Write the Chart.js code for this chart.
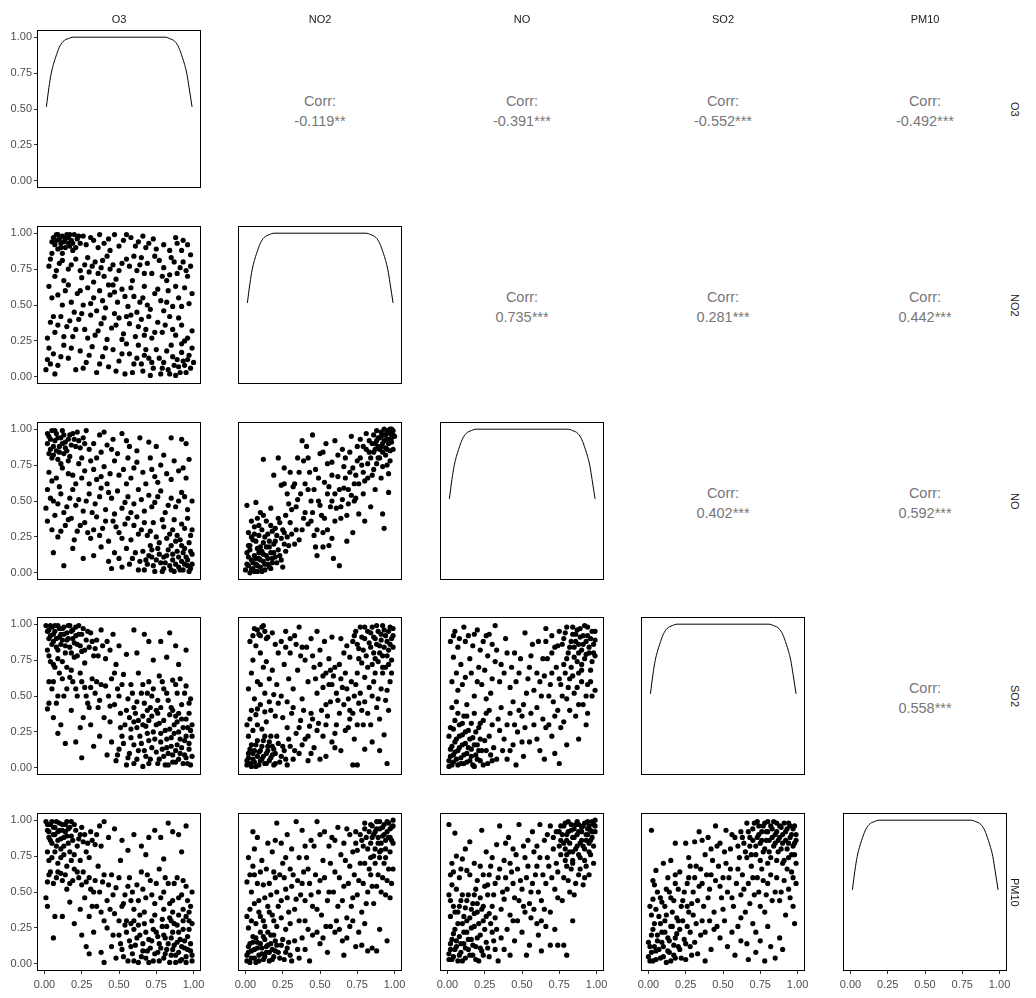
<!DOCTYPE html>
<html>
<head>
<meta charset="utf-8">
<script src="https://cdn.jsdelivr.net/npm/chart.js@4/dist/chart.umd.min.js"></script>
<style>
html,body{margin:0;padding:0;background:#fff;}
#wrap{position:relative;width:1036px;height:998px;overflow:hidden;font-family:"Liberation Sans",Arial,sans-serif;}
#wrap canvas{position:absolute;}
.strip{position:absolute;font-size:11px;color:#1a1a1a;text-align:center;line-height:14px;}
.rstrip{position:absolute;font-size:11px;color:#1a1a1a;writing-mode:vertical-rl;text-align:center;line-height:14px;}
.corr{position:absolute;font-size:14.5px;color:#777;text-align:center;line-height:20px;}
</style>
</head>
<body>
<div id="wrap"></div>
<script>
// ---------- data ----------
const variables = ["O3","NO2","NO","SO2","PM10"];
const tickValues = [0,0.25,0.5,0.75,1];
const tickLabels = ["0.00","0.25","0.50","0.75","1.00"];

// correlation labels (upper triangle), by row
const corrO3  = ["-0.119**","-0.391***","-0.552***","-0.492***"];
const corrNO2 = ["0.735***","0.281***","0.442***"];
const corrNO  = ["0.402***","0.592***"];
const corrSO2 = ["0.558***"];

// diagonal density curve (same shape for every variable)
const densityX = [0.013,0.03,0.045,0.06,0.075,0.1,0.125,0.16,0.19,0.5,0.81,0.84,0.875,0.9,0.925,0.94,0.955,0.97,0.99];
const densityY = [0.515,0.65,0.746,0.81,0.86,0.93,0.97,0.99,1.0,1.0,1.0,0.99,0.97,0.93,0.86,0.81,0.746,0.65,0.515];

// scatter panels: [x, y]
const pts_O3_NO2 = [[.06,.97],[.08,.99],[.10,.96],[.12,.98],[.13,.94],[.15,.99],[.16,.97],[.18,.95],[.20,.99],[.22,.96],[.07,.92],[.09,.89],[.11,.93],[.14,.90],[.17,.91],[.19,.88],[.24,.93],[.05,.86],[.12,.86],[.26,.98],
[.31,.97],[.40,.93],[.47,.99],[.53,.95],[.58,.97],[.61,.91],[.66,.98],[.70,.93],[.75,.89],[.88,.97],[.89,.93],[.92,.88],[.96,.92],[.44,.88],[.36,.90],
[.04,.82],[.10,.79],[.16,.75],[.21,.82],[.27,.78],[.30,.73],[.34,.80],[.38,.76],[.42,.84],[.46,.78],[.50,.74],[.55,.82],[.57,.77],[.62,.74],[.65,.83],[.69,.79],[.72,.72],[.77,.81],[.80,.76],[.84,.71],[.87,.80],[.91,.76],[.95,.74],[.98,.77],[.25,.69],[.33,.66],[.40,.70],[.48,.68],[.59,.67],[.82,.67],[.07,.70],[.13,.67],
[.03,.63],[.09,.57],[.14,.60],[.18,.52],[.22,.58],[.26,.50],[.29,.62],[.33,.55],[.37,.60],[.41,.48],[.44,.57],[.49,.52],[.52,.61],[.56,.49],[.60,.56],[.64,.52],[.67,.63],[.71,.47],[.74,.58],[.78,.53],[.83,.60],[.86,.49],[.90,.55],[.94,.62],[.97,.51],[.35,.46],[.62,.45],[.20,.45],[.80,.46],[.46,.64],
[.04,.38],[.07,.31],[.11,.42],[.15,.35],[.19,.28],[.23,.40],[.27,.33],[.31,.43],[.34,.29],[.38,.37],[.42,.26],[.45,.34],[.50,.41],[.53,.30],[.57,.37],[.61,.28],[.65,.40],[.68,.33],[.72,.27],[.76,.38],[.79,.31],[.84,.42],[.88,.29],[.92,.36],[.96,.27],[.02,.27],[.47,.44],[.58,.43],
[.01,.05],[.02,.12],[.03,.20],[.06,.16],[.09,.08],[.13,.22],[.16,.13],[.21,.05],[.24,.18],[.28,.10],[.32,.21],[.35,.03],[.39,.14],[.43,.07],[.46,.19],[.50,.11],[.54,.02],[.57,.16],[.60,.09],[.63,.22],[.66,.04],[.70,.13],[.73,.06],[.75,.19],[.78,.02],[.80,.10],[.83,.05],[.86,.14],[.88,.01],[.90,.07],[.93,.11],[.95,.03],[.97,.15],[.99,.20],[.71,.01],[.85,.22],[.67,.15],[.55,.23],[.92,.23],
[.05,.94],[.09,.99],[.11,.90],[.14,.96],[.17,.99],[.19,.93],[.21,.90],[.23,.98],[.08,.95],[.16,.93],[.28,.92],[.33,.95],[.37,.99],[.43,.96],[.50,.91],[.55,.99],[.63,.94],[.68,.90],[.73,.96],[.80,.92],[.84,.88],[.93,.95],[.98,.85],
[.03,.77],[.08,.74],[.12,.81],[.18,.78],[.24,.74],[.29,.83],[.32,.77],[.36,.72],[.39,.81],[.44,.75],[.52,.79],[.60,.84],[.64,.78],[.67,.72],[.74,.84],[.79,.70],[.85,.83],[.89,.72],[.93,.80],[.96,.70],
[.05,.55],[.12,.50],[.16,.64],[.24,.60],[.31,.51],[.39,.53],[.43,.64],[.47,.59],[.54,.56],[.58,.62],[.66,.55],[.69,.50],[.76,.61],[.82,.52],[.88,.63],[.92,.49],[.99,.58],
[.06,.42],[.09,.36],[.13,.28],[.17,.39],[.21,.33],[.25,.44],[.29,.27],[.36,.32],[.40,.41],[.48,.36],[.52,.26],[.55,.42],[.63,.35],[.67,.29],[.70,.42],[.74,.31],[.81,.36],[.86,.33],[.90,.41],[.94,.25],[.99,.32],
[.04,.09],[.07,.02],[.11,.14],[.18,.20],[.26,.06],[.30,.15],[.37,.09],[.41,.20],[.48,.04],[.52,.16],[.59,.03],[.62,.13],[.65,.09],[.68,.19],[.72,.10],[.77,.13],[.79,.06],[.82,.18],[.84,.02],[.87,.08],[.89,.12],[.91,.03],[.94,.08],[.96,.12],[.98,.06],[1.0,.10],[.92,.17]];

const pts_O3_NO = [[.03,.95],[.05,.99],[.07,.92],[.08,.97],[.10,.88],[.11,.94],[.12,.99],[.14,.91],[.15,.85],[.17,.96],[.18,.89],[.04,.86],[.06,.82],[.09,.79],[.13,.83],[.20,.93],[.22,.98],[.24,.87],[.26,.94],[.02,.90],[.16,.78],[.28,.99],
[.33,.90],[.37,.96],[.42,.89],[.46,.93],[.52,.97],[.57,.88],[.64,.94],[.70,.91],[.85,.94],[.92,.93],[.38,.84],[.49,.83],
[.03,.70],[.08,.66],[.12,.73],[.19,.68],[.23,.76],[.27,.71],[.31,.78],[.35,.65],[.40,.74],[.44,.69],[.47,.78],[.53,.72],[.58,.66],[.62,.77],[.66,.70],[.71,.80],[.74,.67],[.78,.75],[.82,.69],[.87,.78],[.90,.71],[.95,.66],[.97,.79],[.56,.80],[.30,.62],
[.02,.58],[.06,.50],[.11,.55],[.15,.46],[.19,.58],[.23,.51],[.26,.43],[.30,.55],[.34,.48],[.38,.59],[.41,.44],[.45,.52],[.49,.57],[.52,.45],[.56,.53],[.60,.48],[.63,.58],[.67,.43],[.70,.54],[.74,.49],[.78,.57],[.81,.42],[.85,.52],[.88,.46],[.92,.56],[.96,.44],[.99,.50],[.01,.45],[.47,.41],
[.02,.36],[.05,.30],[.09,.25],[.14,.33],[.18,.38],[.22,.29],[.27,.35],[.31,.24],[.35,.39],[.39,.31],[.43,.22],[.46,.36],[.50,.28],[.54,.34],[.58,.23],[.62,.39],[.65,.30],[.69,.26],[.73,.35],[.77,.21],[.80,.32],[.84,.27],[.87,.37],[.91,.23],[.94,.31],[.98,.26],[.60,.33],[.33,.30],
[.06,.14],[.13,.05],[.19,.17],[.26,.10],[.33,.12],[.38,.18],[.43,.08],[.47,.14],[.52,.04],[.55,.17],[.59,.10],[.63,.02],[.66,.15],[.69,.06],[.72,.11],[.74,.01],[.76,.17],[.78,.07],[.80,.03],[.82,.12],[.84,.05],[.86,.09],[.87,.01],[.89,.15],[.90,.04],[.92,.08],[.93,.02],[.95,.11],[.96,.05],[.98,.03],[.99,.13],[.71,.19],[.85,.19],[.94,.17],
[.02,.97],[.04,.93],[.06,.88],[.07,.99],[.09,.94],[.10,.84],[.12,.90],[.13,.96],[.14,.87],[.16,.93],[.17,.81],[.19,.97],[.21,.88],[.23,.92],[.25,.80],[.27,.90],[.05,.80],[.08,.85],[.11,.76],[.03,.83],[.30,.86],[.35,.80],[.40,.98],[.45,.86],[.55,.92],[.62,.85],[.75,.88],[.80,.82],[.95,.90],
[.05,.64],[.10,.60],[.16,.69],[.21,.62],[.25,.66],[.33,.72],[.38,.67],[.42,.62],[.50,.68],[.55,.62],[.60,.73],[.68,.62],[.72,.72],[.76,.63],[.85,.65],[.93,.73],[.04,.52],[.09,.48],[.13,.42],[.17,.52],[.21,.47],[.28,.50],[.32,.42],[.37,.53],[.43,.56],[.54,.49],[.58,.42],[.65,.51],[.72,.46],[.76,.53],[.83,.47],[.90,.50],[.94,.53],
[.07,.40],[.11,.29],[.16,.37],[.20,.23],[.24,.33],[.29,.28],[.37,.26],[.41,.36],[.48,.32],[.52,.24],[.56,.38],[.63,.27],[.67,.35],[.71,.29],[.75,.25],[.79,.37],[.82,.24],[.86,.30],[.89,.26],[.92,.34],[.96,.38],[.99,.30],
[.45,.03],[.50,.10],[.57,.06],[.61,.14],[.64,.08],[.67,.02],[.70,.12],[.73,.05],[.75,.09],[.77,.13],[.79,.01],[.81,.07],[.83,.16],[.85,.02],[.88,.06],[.90,.11],[.91,.02],[.93,.14],[.94,.06],[.96,.09],[.97,.01],[.98,.15],[.99,.06],[.86,.13],[.80,.11],[.72,.16],[.68,.09],[.92,.19],[.97,.21],[.88,.22]];

const pts_NO2_NO = [[.00,.02],[.02,.05],[.03,.00],[.04,.09],[.05,.03],[.06,.12],[.07,.06],[.08,.01],[.09,.10],[.10,.04],[.11,.15],[.12,.08],[.13,.02],[.14,.12],[.15,.06],[.16,.18],[.17,.03],[.18,.10],[.01,.14],[.03,.19],[.05,.23],[.08,.17],[.02,.28],[.06,.32],[.09,.26],[.12,.21],[.19,.14],[.21,.07],[.23,.12],[.25,.04],[.27,.15],[.20,.22],[.15,.27],[.11,.30],[.04,.36],[.14,.36],
[.01,.47],[.07,.49],[.12,.79],[.22,.80],[.19,.68],[.26,.73],[.10,.42],[.17,.45],[.22,.38],[.25,.30],[.28,.25],[.30,.35],[.33,.20],[.31,.44],[.35,.51],[.38,.30],[.40,.42],[.42,.58],[.44,.36],[.46,.26],[.28,.55],[.24,.61],[.33,.62],[.36,.70],[.39,.78],[.45,.96],[.41,.88],[.47,.72],[.49,.50],[.51,.40],[.53,.63],[.55,.30],[.57,.46],[.58,.77],[.60,.55],[.62,.67],[.63,.05],[.59,.10],[.56,.19],[.52,.18],[.48,.12],[.44,.50],[.50,.83],[.54,.90],[.60,.92],[.64,.38],[.66,.59],[.67,.80],[.69,.48],[.70,.70],[.72,.28],[.73,.62],[.75,.88],[.76,.41],[.78,.75],[.79,.55],[.81,.97],[.82,.66],[.83,.84],[.84,.46],[.86,.72],[.87,.58],[.93,.31],[.92,.41],[.96,.56],[.88,.92],[.89,.80],[.91,.66],[.90,.86],[.71,.95],[.77,.93],[.65,.86],[.74,.52],[.80,.36],[.68,.22],
[.86,.96],[.88,.99],[.90,.94],[.91,.98],[.92,.90],[.93,.96],[.94,.87],[.95,.99],[.96,.93],[.97,.97],[.98,.91],[.99,.99],[1.0,.95],[.94,.82],[.97,.78],[.99,.86],[.95,.75],[.92,.84],[.89,.88],[.96,.69],[.98,1.0],[.85,.90],[.93,1.0],
[.01,.06],[.02,.11],[.03,.16],[.04,.02],[.05,.07],[.06,.01],[.07,.10],[.08,.05],[.09,.14],[.10,.09],[.11,.01],[.12,.13],[.13,.06],[.14,.18],[.15,.10],[.16,.04],[.17,.14],[.18,.07],[.19,.20],[.20,.11],[.22,.16],[.24,.09],[.26,.20],[.02,.19],[.04,.25],[.07,.22],[.10,.18],[.13,.25],[.16,.22],[.18,.29],[.21,.26],[.24,.24],[.06,.27],[.09,.33],[.12,.40],[.08,.38],[.17,.33],[.20,.31],[.23,.35],[.26,.28],[.29,.19],[.31,.27],[.34,.30],[.36,.23],[.39,.38],[.42,.34],[.45,.42],[.48,.30],[.50,.47],[.53,.38],[.55,.55],[.58,.50],[.61,.45],[.63,.58],[.65,.51],[.67,.66],[.69,.58],[.71,.54],[.72,.73],[.74,.68],[.76,.62],[.77,.80],[.79,.70],[.80,.64],[.81,.86],[.82,.76],[.84,.80],[.85,.68],[.86,.84],[.87,.90],[.88,.76],[.89,.94],[.90,.80],[.91,.88],[.92,.74],[.93,.92],[.94,.96],[.95,.86],[.96,.90],[.97,.85],[.98,.94],[.99,.96],[.97,1.0],[.95,.93],[.91,.95],[.87,.86],[.83,.92],[.79,.88],[.75,.78],[.70,.84],[.66,.74],[.62,.82],[.58,.68],[.55,.76],[.52,.84],[.49,.66],[.46,.58],[.43,.70],[.40,.62],[.37,.55],[.34,.46],[.32,.60],[.29,.48],[.27,.40],[.26,.62],[.30,.70],[.35,.80],[.38,.92],[.42,.80],[.56,.60],[.64,.46],[.68,.40],[.73,.50],[.60,.36],[.52,.28],[.47,.18],[.58,.24]];

const pts_O3_SO2 = [[.01,.99],[.03,.96],[.04,.92],[.05,.98],[.06,.88],[.07,.95],[.08,.84],[.09,.99],[.10,.91],[.11,.86],[.12,.97],[.13,.93],[.14,.80],[.15,.89],[.16,.99],[.17,.84],[.18,.95],[.19,.90],[.20,.77],[.21,.98],[.22,.86],[.23,.93],[.25,.81],[.26,.97],[.28,.89],[.30,.84],[.31,.94],[.33,.78],[.02,.82],[.04,.74],[.07,.70],[.10,.66],[.03,.60],[.12,.62],[.06,.60],[.35,.89],
[.38,.96],[.42,.88],[.46,.93],[.50,.85],[.60,.96],[.67,.93],[.70,.88],[.78,.88],[.84,.94],[.88,.85],[.95,.82],[.55,.79],[.41,.76],[.62,.80],[.73,.75],[.82,.77],[.90,.72],[.48,.72],
[.02,.41],[.06,.35],[.03,.45],[.11,.30],[.18,.40],[.09,.50],[.15,.55],[.19,.60],[.22,.50],[.24,.66],[.27,.56],[.29,.45],[.32,.62],[.34,.52],[.36,.42],[.38,.58],[.40,.35],[.43,.50],[.45,.62],[.47,.44],[.49,.55],[.51,.38],[.53,.65],[.56,.48],[.58,.58],[.60,.42],[.63,.66],[.65,.52],[.67,.45],[.70,.60],[.72,.50],[.75,.40],[.77,.64],[.80,.55],[.83,.47],[.86,.61],[.89,.52],[.92,.44],[.95,.57],[.98,.48],[.26,.35],[.31,.30],[.44,.32],[.54,.30],[.24,.28],[.21,.18],[.30,.42],
[.09,.24],[.14,.17],[.25,.07],[.33,.15],[.37,.22],[.42,.09],[.45,.18],
[.48,.05],[.50,.13],[.52,.22],[.55,.02],[.57,.10],[.58,.27],[.60,.16],[.62,.06],[.63,.33],[.64,.22],[.66,.01],[.67,.12],[.68,.29],[.70,.19],[.71,.06],[.72,.36],[.73,.25],[.75,.11],[.76,.03],[.77,.31],[.78,.18],[.80,.08],[.81,.26],[.82,.14],[.83,.02],[.84,.37],[.85,.21],[.86,.09],[.87,.30],[.88,.04],[.89,.16],[.90,.25],[.91,.10],[.92,.34],[.93,.03],[.94,.19],[.95,.07],[.96,.28],[.97,.13],[.98,.02],[.99,.22],[.97,.38],[.61,.38],[.69,.40],
[.02,.95],[.03,.90],[.04,.99],[.05,.86],[.06,.93],[.07,.99],[.08,.90],[.09,.82],[.10,.97],[.11,.93],[.12,.89],[.13,.98],[.14,.85],[.15,.94],[.16,.90],[.17,.99],[.18,.80],[.19,.96],[.20,.87],[.21,.92],[.22,.78],[.23,.99],[.24,.85],[.25,.93],[.27,.82],[.29,.95],[.32,.88],[.34,.83],[.03,.78],[.06,.72],[.09,.76],[.12,.74],[.15,.70],[.18,.68],[.27,.73],[.36,.78],[.39,.85],[.44,.82],
[.05,.55],[.08,.45],[.13,.50],[.17,.63],[.21,.55],[.25,.60],[.28,.50],[.31,.56],[.35,.60],[.37,.47],[.41,.57],[.44,.43],[.47,.66],[.50,.50],[.52,.58],[.55,.40],[.59,.52],[.62,.46],[.66,.58],[.69,.52],[.73,.55],[.76,.47],[.79,.60],[.82,.52],[.85,.42],[.88,.58],[.91,.62],[.94,.52],[.97,.45],[.57,.35],[.60,.32],[.66,.36],[.71,.42],[.78,.42],[.86,.40],[.90,.38],
[.49,.09],[.51,.28],[.53,.17],[.56,.07],[.58,.21],[.60,.03],[.62,.28],[.63,.12],[.65,.17],[.66,.30],[.68,.08],[.69,.24],[.70,.03],[.72,.14],[.74,.20],[.75,.30],[.77,.06],[.78,.24],[.79,.13],[.80,.33],[.81,.02],[.82,.20],[.83,.10],[.84,.27],[.85,.15],[.86,.04],[.87,.24],[.88,.12],[.89,.32],[.90,.06],[.91,.20],[.92,.14],[.93,.28],[.94,.09],[.95,.22],[.96,.03],[.97,.17],[.98,.26],[.99,.08],[.99,.30],[.95,.34],[.88,.36],[.76,.38],[.70,.33]];

const pts_NO2_SO2 = [[.01,.02],[.02,.07],[.03,.13],[.04,.01],[.05,.10],[.06,.04],[.07,.16],[.08,.08],[.09,.02],[.10,.12],[.11,.06],[.12,.19],[.13,.03],[.14,.10],[.15,.15],[.16,.05],[.17,.22],[.18,.09],[.19,.13],[.20,.03],[.22,.17],[.24,.08],[.26,.12],[.28,.02],[.02,.22],[.05,.26],[.08,.30],[.11,.27],[.03,.34],[.14,.32],[.30,.15],[.32,.06],
[.06,.97],[.09,.93],[.11,.98],[.13,.95],[.15,.91],[.03,.88],[.07,.85],[.04,.66],[.02,.55],[.06,.48],[.10,.58],[.12,.70],[.16,.62],[.19,.51],[.08,.41],[.17,.40],[.22,.45],[.05,.75],
[.24,.88],[.27,.95],[.30,.80],[.33,.92],[.36,.98],[.38,.84],[.26,.72],[.29,.62],[.32,.55],[.35,.68],[.38,.48],[.40,.75],[.42,.60],[.44,.38],[.46,.70],[.48,.52],[.50,.82],[.52,.64],[.54,.44],[.56,.76],[.58,.58],[.60,.70],[.62,.47],[.64,.62],[.66,.80],[.68,.55],[.70,.40],[.44,.90],[.48,.95],[.53,.88],[.58,.91],[.25,.35],[.28,.28],[.31,.38],[.34,.24],[.37,.33],[.40,.20],[.43,.29],[.46,.14],[.49,.31],[.52,.22],[.55,.36],[.58,.18],[.61,.30],[.64,.12],[.67,.26],[.70,.34],[.73,.20],[.76,.45],[.79,.30],[.82,.38],[.85,.50],[.88,.42],[.91,.55],[.94,.47],[.97,.60],[.74,.58],[.80,.63],[.87,.66],[.36,.10],[.42,.05],[.54,.08],
[.72,.02],[.75,.02],[.95,.03],[.90,.12],[.85,.18],[.93,.23],[.80,.13],
[.72,.88],[.74,.95],[.76,.83],[.78,.91],[.80,.98],[.81,.78],[.83,.87],[.84,.94],[.86,.80],[.87,.90],[.88,.99],[.89,.74],[.90,.85],[.91,.93],[.92,.78],[.93,.96],[.94,.70],[.95,.88],[.96,.82],[.97,.98],[.98,.75],[.99,.92],[.99,.84],[.85,.72],[.78,.73],[.70,.77],
[.01,.05],[.02,.10],[.03,.03],[.04,.16],[.05,.06],[.06,.12],[.07,.01],[.08,.19],[.09,.11],[.10,.05],[.11,.15],[.12,.08],[.13,.22],[.14,.03],[.15,.12],[.16,.18],[.17,.07],[.18,.15],[.19,.02],[.20,.10],[.21,.22],[.23,.04],[.25,.15],[.27,.06],[.29,.20],[.01,.30],[.04,.40],[.07,.37],[.10,.44],[.13,.39],[.16,.46],[.20,.36],
[.08,.96],[.10,.92],[.12,.99],[.14,.90],[.05,.92],[.18,.94],[.20,.86],[.22,.80],[.10,.80],[.14,.74],[.18,.68],[.08,.60],[.13,.52],[.21,.58],[.24,.50],
[.27,.84],[.30,.90],[.34,.86],[.37,.78],[.41,.84],[.45,.78],[.47,.62],[.50,.72],[.52,.56],[.54,.66],[.56,.58],[.57,.68],[.59,.64],[.61,.52],[.63,.72],[.65,.56],[.67,.66],[.69,.48],[.71,.60],[.73,.50],[.75,.66],[.77,.52],[.80,.46],[.83,.56],[.86,.60],[.89,.48],[.92,.66],[.95,.54],[.98,.66],[.28,.46],[.32,.42],[.36,.28],[.39,.40],[.42,.22],[.45,.34],[.48,.26],[.51,.40],[.54,.30],[.57,.46],[.60,.24],[.63,.38],[.66,.44],[.69,.28],[.72,.38],[.75,.30],[.78,.40],[.84,.30],[.90,.34],[.96,.40],[.33,.12],[.38,.16],[.44,.10],[.50,.06],[.60,.14],
[.73,.92],[.75,.86],[.77,.98],[.79,.82],[.80,.90],[.82,.95],[.84,.84],[.85,.98],[.86,.91],[.87,.76],[.88,.86],[.89,.95],[.90,.80],[.91,.89],[.92,.99],[.93,.84],[.94,.92],[.95,.78],[.96,.95],[.97,.86],[.98,.90],[.99,.97],[.96,.72],[.92,.70],[.82,.70],[.76,.76],[.68,.85],[.64,.90]];

const pts_NO_SO2 = [[.01,.01],[.02,.08],[.03,.15],[.04,.04],[.05,.11],[.06,.20],[.07,.02],[.08,.14],[.09,.07],[.10,.23],[.11,.03],[.12,.17],[.13,.10],[.14,.26],[.15,.05],[.16,.13],[.17,.21],[.18,.01],[.19,.09],[.20,.16],[.21,.28],[.22,.05],[.23,.12],[.25,.19],[.27,.03],[.29,.09],[.02,.28],[.05,.33],[.08,.30],[.11,.36],[.03,.42],[.16,.31],[.24,.33],[.31,.14],[.33,.06],
[.02,.88],[.05,.95],[.08,.90],[.11,.98],[.14,.92],[.17,.85],[.20,.96],[.24,.88],[.28,.93],[.32,.99],[.04,.77],[.09,.72],[.15,.76],[.21,.70],[.27,.78],[.03,.60],[.07,.54],[.12,.63],[.18,.50],[.23,.58],[.06,.46],[.13,.44],[.26,.48],[.30,.62],[.33,.82],[.36,.72],[.39,.90],[.42,.56],[.45,.80],[.48,.66],[.36,.42],[.40,.30],[.44,.46],[.38,.20],[.42,.12],[.47,.25],[.50,.36],[.53,.52],[.55,.70],[.57,.86],[.52,.94],[.60,.42],[.62,.60],[.64,.76],[.66,.28],[.68,.50],[.70,.66],[.72,.84],[.74,.40],[.76,.58],[.78,.72],[.80,.48],[.82,.62],[.85,.52],[.88,.66],[.91,.44],[.94,.58],[.97,.50],[.55,.18],[.58,.30],[.51,.08],[.46,.02],[.62,.12],[.70,.22],[.78,.32],[.86,.36],[.93,.30],[.34,.34],[.28,.40],
[.65,.06],[.72,.10],[.80,.16],[.88,.20],[.75,.03],
[.78,.90],[.80,.98],[.82,.84],[.84,.93],[.85,.77],[.86,.88],[.87,.96],[.88,.80],[.89,.91],[.90,.72],[.91,.86],[.92,.99],[.93,.79],[.94,.92],[.95,.84],[.96,.68],[.97,.95],[.98,.80],[.99,.89],[.83,.70],[.75,.95],[.70,.92],[.66,.97],
[.01,.05],[.02,.13],[.03,.02],[.04,.09],[.05,.18],[.06,.06],[.07,.12],[.08,.22],[.09,.03],[.10,.16],[.11,.09],[.12,.25],[.13,.04],[.14,.14],[.15,.20],[.16,.08],[.17,.02],[.18,.16],[.19,.25],[.20,.06],[.21,.12],[.22,.20],[.24,.02],[.26,.12],[.28,.22],[.30,.05],[.01,.22],[.04,.27],[.07,.38],[.10,.31],[.13,.36],[.18,.38],[.22,.31],[.26,.38],[.30,.30],[.35,.26],
[.04,.92],[.07,.84],[.12,.88],[.18,.93],[.22,.82],[.26,.92],[.30,.86],[.06,.66],[.10,.58],[.16,.66],[.20,.60],[.25,.68],[.29,.52],[.32,.74],[.35,.60],[.38,.66],[.40,.80],[.43,.70],[.46,.60],[.49,.76],[.51,.44],[.54,.62],[.56,.78],[.58,.54],[.60,.66],[.61,.88],[.63,.50],[.65,.64],[.67,.76],[.69,.58],[.71,.46],[.73,.70],[.75,.62],[.77,.50],[.79,.66],[.81,.56],[.84,.64],[.87,.56],[.90,.60],[.93,.50],[.96,.60],[.99,.54],[.42,.38],[.45,.30],[.48,.40],[.52,.28],[.56,.38],[.60,.20],[.64,.34],[.68,.30],[.72,.36],[.76,.28],[.82,.40],[.88,.44],[.94,.38],[.37,.12],[.44,.16],[.50,.18],[.40,.06],
[.77,.86],[.79,.94],[.81,.80],[.83,.88],[.84,.98],[.85,.84],[.86,.93],[.87,.74],[.88,.86],[.89,.97],[.90,.82],[.91,.92],[.92,.76],[.93,.88],[.94,.98],[.95,.80],[.96,.90],[.97,.74],[.98,.86],[.99,.95],[.99,.78],[.90,.68],[.80,.76],[.74,.85],[.70,.80],[.66,.88]];

const pts_O3_PM10 = [[.01,.99],[.02,.93],[.03,.88],[.04,.97],[.05,.84],[.06,.95],[.07,.90],[.08,.99],[.09,.86],[.10,.93],[.11,.80],[.12,.97],[.13,.88],[.14,.92],[.15,.99],[.16,.84],[.17,.95],[.18,.89],[.20,.97],[.22,.82],[.24,.90],[.02,.78],[.05,.74],[.09,.70],[.13,.76],[.18,.72],[.26,.85],[.28,.78],[.31,.92],[.34,.83],[.37,.96],[.40,.99],
[.43,.88],[.47,.94],[.52,.86],[.56,.79],[.60,.90],[.65,.82],[.70,.88],[.74,.93],[.78,.88],[.83,.98],[.86,.92],[.90,.90],[.95,.96],[.68,.76],[.80,.73],[.92,.78],
[.02,.57],[.04,.64],[.08,.60],[.11,.63],[.15,.52],[.19,.58],[.22,.64],[.25,.55],[.27,.46],[.30,.60],[.33,.50],[.36,.68],[.39,.57],[.42,.44],[.45,.62],[.48,.53],[.51,.72],[.54,.48],[.57,.60],[.60,.38],[.62,.55],[.65,.64],[.68,.46],[.71,.58],[.74,.42],[.77,.66],[.80,.50],[.83,.56],[.86,.44],[.89,.60],[.92,.48],[.95,.54],[.98,.40],[.35,.40],[.47,.35],[.55,.30],[.58,.44],[.64,.34],[.40,.30],[.30,.33],[.24,.38],[.20,.28],[.02,.40],[.07,.33],[.12,.33],[.01,.46],[.17,.43],
[.06,.18],[.25,.20],[.28,.12],[.30,.07],[.33,.22],[.38,.08],[.40,.01],[.42,.25],[.45,.12],[.48,.04],
[.50,.20],[.52,.10],[.54,.27],[.56,.02],[.57,.16],[.59,.07],[.60,.24],[.61,.13],[.63,.01],[.64,.20],[.66,.09],[.67,.28],[.68,.04],[.70,.17],[.71,.11],[.72,.30],[.73,.02],[.75,.22],[.76,.08],[.77,.14],[.79,.26],[.80,.04],[.81,.18],[.82,.10],[.84,.32],[.85,.06],[.86,.22],[.87,.13],[.88,.01],[.89,.27],[.90,.08],[.91,.17],[.92,.03],[.93,.24],[.94,.11],[.95,.05],[.96,.19],[.97,.30],[.98,.09],[.99,.02],[.97,.36],[.93,.38],
[.02,.97],[.03,.92],[.04,.86],[.05,.99],[.06,.90],[.07,.95],[.08,.82],[.09,.92],[.10,.98],[.11,.87],[.12,.93],[.13,.82],[.14,.97],[.15,.89],[.16,.94],[.17,.78],[.18,.99],[.19,.86],[.21,.93],[.23,.87],[.25,.95],[.27,.90],[.29,.84],[.32,.86],[.35,.90],[.03,.72],[.07,.78],[.11,.74],[.15,.68],[.20,.76],[.24,.72],[.30,.74],[.38,.82],
[.03,.62],[.06,.56],[.09,.64],[.12,.58],[.14,.62],[.17,.56],[.20,.66],[.23,.60],[.26,.64],[.28,.57],[.31,.52],[.34,.58],[.37,.50],[.40,.62],[.43,.55],[.46,.48],[.50,.60],[.53,.42],[.56,.54],[.59,.50],[.63,.44],[.66,.52],[.69,.62],[.72,.48],[.75,.56],[.78,.46],[.81,.60],[.84,.42],[.87,.56],[.90,.46],[.93,.58],[.96,.44],[.99,.50],[.32,.40],[.38,.36],[.44,.38],[.50,.30],[.52,.40],[.60,.30],[.67,.36],[.74,.34],[.80,.38],[.86,.36],
[.51,.14],[.53,.05],[.55,.22],[.58,.12],[.60,.02],[.62,.18],[.63,.27],[.65,.05],[.66,.14],[.68,.22],[.69,.09],[.70,.01],[.72,.16],[.73,.24],[.74,.07],[.76,.19],[.77,.02],[.78,.11],[.79,.31],[.80,.20],[.81,.07],[.82,.26],[.83,.14],[.84,.01],[.85,.18],[.86,.10],[.87,.28],[.88,.06],[.89,.15],[.90,.22],[.91,.02],[.92,.12],[.93,.30],[.94,.16],[.95,.01],[.96,.10],[.97,.24],[.98,.14],[.99,.06],[.99,.28],[.95,.33],[.90,.34],[.85,.30],[.58,.28],[.46,.20]];

const pts_NO2_PM10 = [[.01,.02],[.02,.08],[.03,.14],[.04,.04],[.05,.19],[.06,.10],[.07,.01],[.08,.15],[.09,.06],[.10,.22],[.11,.11],[.12,.03],[.13,.17],[.14,.08],[.15,.13],[.16,.02],[.17,.20],[.18,.10],[.19,.05],[.20,.16],[.22,.08],[.24,.13],[.26,.03],[.28,.11],[.30,.06],[.02,.25],[.04,.30],[.07,.28],[.10,.33],[.13,.26],[.16,.36],[.19,.30],[.33,.16],[.36,.04],[.40,.10],[.43,.02],
[.05,.92],[.08,.88],[.21,.98],[.34,.99],[.28,.90],[.02,.74],[.06,.80],[.11,.72],[.15,.84],[.18,.78],[.24,.84],[.31,.80],[.38,.93],
[.01,.57],[.04,.50],[.06,.62],[.09,.44],[.12,.55],[.14,.66],[.17,.48],[.20,.60],[.22,.40],[.25,.70],[.27,.52],[.29,.36],[.32,.62],[.34,.45],[.36,.74],[.38,.56],[.40,.30],[.42,.66],[.44,.48],[.46,.82],[.48,.38],[.50,.58],[.52,.72],[.54,.26],[.56,.50],[.58,.88],[.60,.64],[.62,.40],[.64,.76],[.66,.54],[.68,.32],[.70,.68],[.72,.46],[.74,.84],[.76,.58],[.78,.36],[.80,.70],[.82,.50],[.84,.62],[.86,.42],[.88,.54],[.90,.74],[.92,.60],[.94,.48],[.96,.66],[.98,.56],[.45,.20],[.50,.14],[.55,.08],[.60,.22],[.65,.16],[.70,.26],[.74,.12],[.62,.95],[.70,.90],[.53,.92],[.48,.99],
[.78,.13],[.82,.09],[.85,.11],[.88,.09],[.66,.06],[.95,.16],[.90,.24],[.80,.28],
[.78,.86],[.80,.94],[.82,.80],[.84,.97],[.85,.88],[.86,.75],[.87,.92],[.88,.99],[.89,.84],[.90,.94],[.91,.79],[.92,.89],[.93,.97],[.94,.86],[.95,.92],[.96,.98],[.97,.88],[.98,.95],[.99,1.0],[.97,.78],[.99,.84],[.75,.79],
[.01,.06],[.02,.12],[.03,.01],[.04,.09],[.05,.15],[.06,.04],[.07,.18],[.08,.11],[.09,.02],[.10,.14],[.11,.07],[.12,.19],[.13,.05],[.14,.12],[.15,.22],[.16,.08],[.17,.14],[.18,.03],[.19,.20],[.20,.09],[.21,.13],[.23,.04],[.25,.17],[.27,.08],[.29,.15],[.31,.02],[.01,.33],[.03,.38],[.06,.42],[.09,.36],[.12,.30],[.15,.40],[.18,.34],[.21,.26],[.24,.32],[.27,.24],[.35,.10],[.38,.18],
[.03,.62],[.05,.68],[.08,.56],[.10,.64],[.13,.46],[.16,.56],[.19,.64],[.21,.50],[.23,.62],[.24,.44],[.26,.60],[.28,.46],[.30,.66],[.31,.54],[.33,.38],[.35,.58],[.37,.48],[.39,.64],[.40,.44],[.41,.74],[.43,.56],[.45,.40],[.47,.62],[.49,.50],[.51,.34],[.53,.60],[.55,.44],[.57,.70],[.59,.50],[.61,.30],[.63,.60],[.65,.44],[.67,.72],[.69,.56],[.71,.40],[.73,.62],[.75,.48],[.77,.70],[.79,.56],[.81,.42],[.83,.66],[.85,.54],[.87,.70],[.89,.62],[.91,.50],[.93,.70],[.95,.58],[.97,.46],[.99,.66],[.30,.28],[.36,.30],[.42,.24],[.48,.22],[.52,.18],[.57,.26],[.63,.24],[.68,.18],[.72,.30],[.76,.22],[.44,.86],[.50,.90],[.56,.82],[.60,.86],[.66,.84],[.68,.94],[.40,.82],[.27,.74],[.20,.86],
[.77,.90],[.79,.82],[.80,.98],[.81,.88],[.83,.92],[.84,.84],[.85,.96],[.86,.90],[.87,.80],[.88,.94],[.89,.88],[.90,.99],[.91,.84],[.92,.95],[.93,.90],[.94,.80],[.95,.99],[.96,.88],[.97,.94],[.98,.86],[.99,.96],[.94,.74],[.90,.78],[.84,.74],[.72,.78],[.74,.92]];

const pts_NO_PM10 = [[.01,.03],[.02,.10],[.03,.17],[.04,.05],[.05,.24],[.06,.12],[.07,.02],[.08,.19],[.09,.08],[.10,.28],[.11,.14],[.12,.04],[.13,.22],[.14,.10],[.15,.32],[.16,.17],[.17,.06],[.18,.26],[.19,.12],[.20,.36],[.21,.02],[.22,.20],[.23,.09],[.24,.30],[.26,.15],[.28,.05],[.30,.22],[.02,.33],[.04,.40],[.07,.36],[.09,.44],[.12,.39],[.14,.48],[.17,.42],[.19,.52],[.22,.46],[.01,.48],[.03,.55],[.32,.10],[.34,.02],[.36,.18],
[.01,.97],[.05,.91],[.23,.93],[.12,.80],[.15,.85],[.03,.70],[.06,.75],[.10,.73],[.02,.62],[.08,.60],[.13,.65],[.18,.70],
[.24,.62],[.26,.78],[.27,.55],[.29,.68],[.31,.48],[.33,.83],[.34,.60],[.36,.38],[.38,.72],[.40,.52],[.41,.88],[.43,.64],[.44,.30],[.46,.76],[.48,.44],[.49,.58],[.51,.82],[.52,.36],[.54,.68],[.56,.50],[.57,.92],[.59,.62],[.60,.28],[.62,.74],[.63,.44],[.65,.86],[.66,.56],[.68,.68],[.69,.36],[.71,.80],[.72,.52],[.74,.64],[.75,.92],[.77,.44],[.79,.72],[.81,.58],[.83,.66],[.85,.48],[.88,.62],[.91,.55],[.40,.24],[.45,.16],[.50,.22],[.56,.32],[.61,.20],[.35,.96],[.48,.97],[.62,.97],[.28,.35],[.38,.45],
[.80,.06],[.78,.13],[.74,.13],[.69,.13],[.63,.09],[.55,.13],[.53,.06],[.84,.30],[.72,.24],
[.76,.86],[.78,.96],[.79,.80],[.80,.90],[.81,.99],[.82,.84],[.83,.93],[.84,.78],[.85,.88],[.86,.97],[.87,.82],[.88,.92],[.89,.74],[.90,.86],[.91,.96],[.92,.80],[.93,.90],[.94,.99],[.95,.84],[.96,.93],[.97,.88],[.98,.97],[.99,.92],[.99,1.0],[.96,.76],[.98,.70],[.93,.68],[.90,.95],[.87,.99],[.94,.94],
[.01,.07],[.02,.14],[.03,.03],[.04,.21],[.05,.10],[.06,.16],[.07,.28],[.08,.06],[.09,.14],[.10,.02],[.11,.22],[.12,.11],[.13,.30],[.14,.17],[.15,.06],[.16,.25],[.17,.13],[.18,.35],[.19,.03],[.20,.18],[.21,.28],[.22,.11],[.23,.38],[.24,.06],[.25,.24],[.26,.33],[.27,.11],[.29,.28],[.31,.16],[.33,.24],[.02,.44],[.05,.36],[.06,.52],[.08,.40],[.10,.48],[.11,.33],[.13,.44],[.16,.38],[.18,.48],[.20,.42],[.24,.40],[.27,.48],[.30,.40],[.32,.32],[.38,.10],[.42,.06],
[.04,.64],[.09,.66],[.15,.62],[.20,.58],[.22,.68],[.25,.54],[.28,.62],[.30,.74],[.32,.56],[.35,.66],[.37,.50],[.39,.60],[.42,.70],[.44,.56],[.45,.46],[.47,.66],[.50,.52],[.52,.74],[.53,.60],[.55,.42],[.57,.56],[.58,.78],[.60,.68],[.61,.50],[.64,.62],[.65,.38],[.67,.74],[.70,.60],[.71,.88],[.73,.70],[.74,.46],[.76,.76],[.78,.60],[.80,.68],[.82,.50],[.84,.72],[.86,.56],[.89,.66],[.92,.60],[.95,.62],[.42,.34],[.47,.30],[.51,.40],[.58,.38],[.63,.30],[.66,.26],[.44,.80],[.39,.84],[.54,.86],[.60,.82],[.67,.90],
[.75,.82],[.77,.90],[.78,.84],[.79,.98],[.80,.86],[.81,.92],[.82,.78],[.83,.97],[.84,.88],[.85,.94],[.86,.80],[.87,.90],[.88,.97],[.89,.84],[.90,.92],[.91,.82],[.92,.98],[.93,.86],[.94,.90],[.95,.96],[.96,.86],[.97,.92],[.98,.82],[.99,.96],[.97,.99],[.95,.78],[.92,.72],[.88,.76],[.84,.70],[.80,.76],[.76,.96],[.73,.92],[.69,.96]];

const pts_SO2_PM10 = [[.00,.05],[.01,.12],[.02,.20],[.03,.02],[.04,.28],[.05,.09],[.06,.16],[.07,.33],[.08,.04],[.09,.22],[.10,.12],[.11,.30],[.12,.01],[.13,.18],[.14,.08],[.15,.26],[.16,.36],[.17,.13],[.18,.04],[.19,.21],[.20,.30],[.21,.10],[.22,.40],[.24,.17],[.25,.03],[.26,.26],[.28,.12],[.30,.34],[.01,.40],[.03,.45],[.06,.50],[.09,.43],[.12,.52],[.15,.46],[.18,.56],[.33,.07],[.35,.20],[.38,.02],
[.02,.93],[.18,.84],[.25,.84],[.31,.85],[.05,.65],[.10,.70],[.15,.72],[.03,.58],[.21,.64],[.27,.74],[.34,.92],
[.24,.50],[.27,.60],[.29,.42],[.32,.68],[.34,.54],[.36,.30],[.38,.76],[.40,.46],[.42,.62],[.44,.24],[.46,.82],[.48,.54],[.50,.38],[.52,.70],[.54,.60],[.56,.46],[.58,.88],[.60,.66],[.62,.32],[.64,.52],[.66,.74],[.68,.42],[.70,.60],[.72,.22],[.74,.50],[.76,.66],[.78,.36],[.80,.56],[.83,.44],[.86,.60],[.89,.50],[.92,.34],[.95,.46],[.98,.28],[.97,.60],[.42,.10],[.48,.18],[.53,.12],[.58,.06],[.62,.16],[.67,.03],[.72,.08],[.78,.02],[.85,.04],[.88,.18],[.80,.26],[.45,.96],[.52,.93],[.40,.88],[.55,.80],
[.62,.92],[.64,.84],[.66,.98],[.68,.88],[.69,.76],[.70,.94],[.72,.82],[.73,.99],[.74,.90],[.75,.72],[.76,.86],[.77,.96],[.78,.80],[.79,.92],[.80,.99],[.81,.86],[.82,.74],[.83,.94],[.84,.82],[.85,.90],[.86,.98],[.87,.78],[.88,.88],[.89,.95],[.90,.84],[.91,.72],[.92,.92],[.93,.80],[.94,.98],[.95,.88],[.96,.76],[.97,.94],[.98,.84],[.99,.90],[.99,.70],[.96,.64],[.93,.66],
[.00,.15],[.01,.02],[.02,.08],[.03,.24],[.04,.12],[.05,.03],[.06,.20],[.07,.10],[.08,.28],[.09,.15],[.10,.05],[.11,.22],[.12,.34],[.13,.09],[.14,.16],[.15,.02],[.16,.26],[.17,.06],[.18,.18],[.19,.32],[.20,.12],[.21,.24],[.22,.04],[.23,.30],[.25,.14],[.27,.36],[.28,.22],[.29,.06],[.31,.15],[.32,.28],[.02,.34],[.05,.38],[.08,.46],[.11,.40],[.14,.50],[.17,.44],[.20,.52],[.23,.44],[.26,.40],[.04,.55],[.13,.60],[.18,.62],
[.26,.56],[.28,.68],[.30,.50],[.31,.60],[.33,.44],[.35,.66],[.36,.56],[.37,.40],[.39,.62],[.41,.52],[.43,.72],[.44,.36],[.45,.58],[.47,.68],[.49,.46],[.50,.60],[.51,.78],[.53,.50],[.55,.66],[.57,.40],[.59,.56],[.61,.74],[.62,.48],[.63,.62],[.65,.36],[.67,.56],[.69,.68],[.71,.48],[.73,.60],[.75,.40],[.77,.58],[.79,.48],[.82,.62],[.85,.50],[.88,.44],[.91,.58],[.94,.52],[.97,.40],[.99,.56],[.38,.22],[.41,.30],[.46,.26],[.51,.30],[.56,.22],[.60,.26],[.66,.14],[.70,.28],[.75,.16],[.82,.12],[.90,.10],[.48,.84],[.56,.90],[.60,.82],[.42,.80],[.36,.86],
[.63,.88],[.65,.78],[.67,.92],[.68,.82],[.70,.86],[.71,.98],[.72,.76],[.73,.88],[.74,.96],[.75,.84],[.76,.92],[.77,.78],[.78,.98],[.79,.86],[.80,.92],[.81,.78],[.82,.96],[.83,.88],[.84,.99],[.85,.84],[.86,.92],[.87,.86],[.88,.96],[.89,.80],[.90,.90],[.91,.98],[.92,.86],[.93,.94],[.94,.84],[.95,.96],[.96,.90],[.97,.82],[.98,.96],[.99,.86],[.98,.76],[.94,.74],[.90,.70],[.86,.72],[.80,.70]];

// ---------- assembly ----------
const scatterPanels = {
  "1,0": pts_O3_NO2,
  "2,0": pts_O3_NO,  "2,1": pts_NO2_NO,
  "3,0": pts_O3_SO2, "3,1": pts_NO2_SO2, "3,2": pts_NO_SO2,
  "4,0": pts_O3_PM10,"4,1": pts_NO2_PM10,"4,2": pts_NO_PM10,"4,3": pts_SO2_PM10
};
const corrRows = [corrO3, corrNO2, corrNO, corrSO2];

const colLeft = [37,238,440,641,843];
const rowTop  = [30,226,422,617,813];
const PW = 164, PH = 158;
const FONT = "'Liberation Sans', Arial, sans-serif";
const wrap = document.getElementById('wrap');

const borderPlugin = {
  id:'panelBorder',
  afterDraw(chart){
    const a = chart.chartArea, ctx = chart.ctx;
    ctx.save();
    ctx.strokeStyle = '#000'; ctx.lineWidth = 1;
    ctx.strokeRect(a.left+0.5, a.top+0.5, a.right-a.left-1, a.bottom-a.top-1);
    ctx.restore();
  }
};

function axisOpts(show, isX, size){
  return {
    type:'linear', min:-0.05, max:1.05, display:show,
    afterBuildTicks: s => { s.ticks = tickValues.map(v => ({value:v})); },
    afterFit: s => { if (isX) s.height = size; else s.width = size; },
    ticks:{
      callback: v => tickLabels[tickValues.indexOf(v)],
      color:'#4d4d4d', font:{family:FONT, size:11},
      padding: isX ? 4 : 2, autoSkip:false, maxRotation:0, minRotation:0
    },
    grid:{drawOnChartArea:false, drawTicks:true, tickLength:3, tickColor:'#333', lineWidth:1},
    border:{display:false}
  };
}

function makePanel(r, c, datasets){
  const axisW = c===0 ? 37 : 0;
  const padL = c===0 ? 0 : 10;
  const padR = 10, padT = 10;
  const axisH = r===4 ? 26 : 0;
  const padB = r===4 ? 0 : 10;
  const w = padL + axisW + PW + padR;
  const h = padT + PH + axisH + padB;
  const cv = document.createElement('canvas');
  cv.width = w; cv.height = h;
  cv.style.width = w+'px'; cv.style.height = h+'px';
  cv.style.left = (colLeft[c] - padL - axisW) + 'px';
  cv.style.top = (rowTop[r] - padT) + 'px';
  wrap.appendChild(cv);
  new Chart(cv, {
    type:'scatter',
    data:{datasets},
    options:{
      responsive:false, animation:false, devicePixelRatio:1,
      layout:{padding:{left:padL, right:padR, top:padT, bottom:padB}},
      plugins:{legend:{display:false}, tooltip:{enabled:false}},
      scales:{ x: axisOpts(r===4, true, axisH), y: axisOpts(c===0, false, axisW) }
    },
    plugins:[borderPlugin]
  });
}

for (let r=0; r<5; r++){
  for (let c=0; c<5; c++){
    if (c > r) {
      const d = document.createElement('div');
      d.className = 'corr';
      d.style.left = colLeft[c]+'px'; d.style.width = PW+'px';
      d.style.top = (rowTop[r] + PH/2 - 18) + 'px';
      d.innerHTML = 'Corr:<br>' + corrRows[r][c-r-1];
      wrap.appendChild(d);
    } else if (c === r) {
      makePanel(r, c, [{
        type:'line',
        data: densityX.map((x,i) => ({x, y:densityY[i]})),
        borderColor:'#000', borderWidth:1, pointRadius:0, fill:false,
        cubicInterpolationMode:'monotone'
      }]);
    } else {
      const pts = scatterPanels[r+','+c];
      makePanel(r, c, [{
        data: pts.map(p => ({x:p[0], y:p[1]})),
        backgroundColor:'#000', borderWidth:0, pointRadius:2.6, pointHoverRadius:2.6
      }]);
    }
  }
}

// strip labels
variables.forEach((v,i) => {
  const t = document.createElement('div');
  t.className = 'strip';
  t.style.left = colLeft[i]+'px'; t.style.width = PW+'px'; t.style.top = '12px';
  t.textContent = v;
  wrap.appendChild(t);
  const s = document.createElement('div');
  s.className = 'rstrip';
  s.style.left = '1008px'; s.style.width = '14px';
  s.style.top = rowTop[i]+'px'; s.style.height = PH+'px';
  s.textContent = v;
  wrap.appendChild(s);
});
</script>
</body>
</html>
